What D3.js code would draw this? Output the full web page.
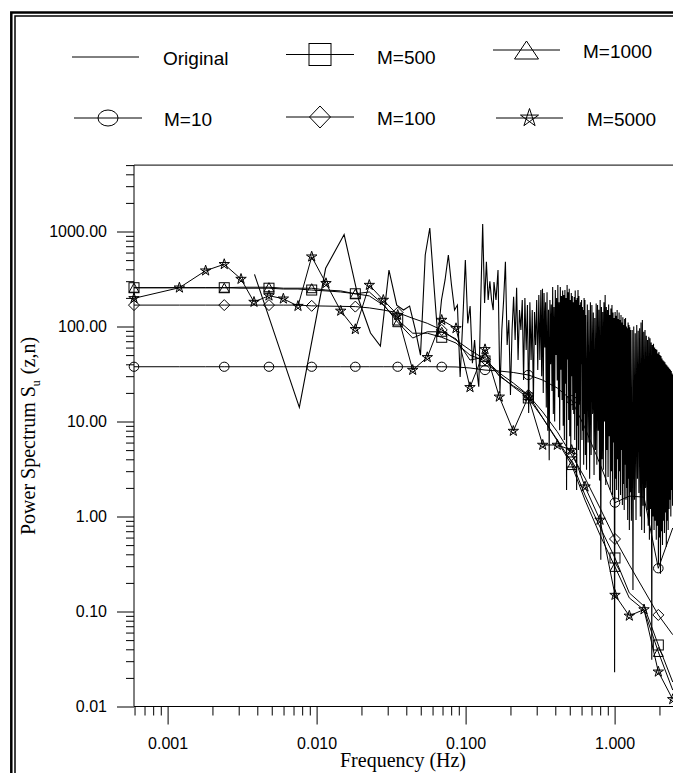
<!DOCTYPE html>
<html>
<head>
<meta charset="utf-8">
<script src="https://cdn.jsdelivr.net/npm/d3@7"></script>
<style>
  body { margin: 0; background: #fff; }
  svg { display: block; }
</style>
</head>
<body>
<div id="chart"></div>
<script>
// 1/10-decade band frequencies (Hz) of the smoothed spectra
const bandFreq = [0.000595, 0.0012, 0.0018, 0.0024, 0.00311, 0.0038, 0.00479, 0.00598, 0.0075, 0.00927,
  0.01156, 0.01452, 0.01819, 0.02258, 0.02804, 0.03502, 0.04416, 0.05534, 0.06915, 0.08622,
  0.107, 0.135, 0.1683, 0.209, 0.2635, 0.3292, 0.4125, 0.515, 0.633, 0.798,
  1.006, 1.255, 1.575, 1.965, 2.455];

const specM10 = [37.7, 37.7, 37.7, 37.7, 37.7, 37.7, 37.7, 37.7, 37.7, 37.7, 37.7, 37.7, 37.7, 37.7, 37.7, 37.7, 37.7, 37.7, 37.7,
  37.5, 36.6, 34.8, 34.0, 32.8, 30.9, 27.3, 22.5, 16.8, 8.54, 3.57, 1.40, 1.64, 1.60, 0.285, 0.757];
const specM100 = [168, 168, 168, 168, 168, 168, 168, 168, 168, 165, 164, 163, 162, 157, 149, 140, 122, 108, 92,
  72, 56.6, 45, 32.4, 25.4, 19, 12.6, 7.8, 4.44, 2.54, 1.23, 0.58, 0.31, 0.168, 0.092, 0.057];
const specM500 = [256, 256, 256, 256, 253, 253, 253, 248, 248, 242, 237, 231, 221, 210, 168, 117, 85, 85, 77,
  67, 50, 43.4, 30.9, 23.2, 17.7, 10.9, 6.4, 3.75, 1.68, 0.775, 0.366, 0.157, 0.114, 0.0444, 0.0181];
const specM1000 = [256, 256, 256, 256, 259, 259, 259, 253, 253, 253, 242, 237, 221, 231, 171, 111, 75.6, 88, 88,
  74, 44.4, 47.6, 30, 23.7, 19.0, 10.9, 6.25, 3.48, 1.49, 0.64, 0.295, 0.139, 0.104, 0.0375, 0.0149];
const specM5000 = [198, 256, 387, 452, 316, 181, 211, 196, 164, 543, 285, 146, 93.5, 273, 190, 132, 34.8, 47.4, 117,
  95.7, 22.9, 57.5, 18.2, 7.94, 18.2, 5.66, 5.66, 5.0, 2.06, 0.92, 0.149, 0.090, 0.105, 0.0232, 0.0119];

// raw periodogram, low frequency harmonics
const origFreqLow = [0.00383, 0.00766, 0.0115, 0.0153, 0.0192, 0.023, 0.0268, 0.0306, 0.0345, 0.0383,
  0.0421, 0.046, 0.0498, 0.0536, 0.0575, 0.0613, 0.0651, 0.0689, 0.0728, 0.0766,
  0.0804, 0.0843, 0.0881, 0.0919, 0.0958, 0.0996, 0.1034, 0.1072, 0.1111, 0.1149,
  0.1187, 0.1226, 0.1264, 0.1302, 0.1341, 0.1379, 0.1417, 0.1455, 0.1494, 0.1532];
const origPowLow = [354, 14.1, 410, 929, 190, 85.4, 62.3, 393, 168, 149,
  164, 92, 50, 566, 1088, 273, 77.5, 190, 309, 566,
  273, 149, 168, 29.4, 117, 501, 108, 164, 41, 72,
  35, 23.2, 190, 1200, 177, 480, 190, 300, 190, 149];

// raw periodogram, 0.15 - 0.32 Hz
const origFreqMid = [0.155, 0.16, 0.165, 0.17, 0.175, 0.18, 0.185, 0.19, 0.195, 0.2, 0.205, 0.21, 0.215, 0.22, 0.225, 0.23, 0.235,
  0.24, 0.245, 0.25, 0.255, 0.26, 0.265, 0.27, 0.275, 0.28, 0.285, 0.29, 0.295, 0.3, 0.305, 0.31, 0.315, 0.32];
const origPowMid = [294, 190, 393, 20, 92, 190, 480, 64, 117, 19, 92, 205, 72, 255, 44.4, 149, 92,
  190, 27.3, 200, 56.6, 168, 12.3, 180, 44.4, 149, 15.6, 142, 64, 190, 34.8, 215, 44.4, 242];

// raw periodogram, dense part 0.32 - 0.64 Hz
const origFreqC = [0.324, 0.328, 0.332, 0.336, 0.34, 0.344, 0.348, 0.352, 0.356, 0.36, 0.364, 0.368, 0.372, 0.376, 0.38, 0.384,
  0.388, 0.392, 0.396, 0.4, 0.404, 0.408, 0.412, 0.416, 0.42, 0.424, 0.428, 0.432, 0.436, 0.44, 0.444, 0.448,
  0.452, 0.456, 0.46, 0.464, 0.468, 0.472, 0.476, 0.48, 0.484, 0.488, 0.492, 0.496, 0.5, 0.504, 0.508, 0.512,
  0.516, 0.52, 0.524, 0.528, 0.532, 0.536, 0.54, 0.544, 0.548, 0.552, 0.556, 0.56, 0.564, 0.568, 0.572, 0.576,
  0.58, 0.584, 0.588, 0.592, 0.596, 0.6, 0.604, 0.608, 0.612, 0.616, 0.62, 0.624, 0.628, 0.632, 0.636, 0.64];
const origPowC = [30, 250, 20, 225, 60, 180, 14, 230, 8, 150, 3.9, 190, 40, 170, 21, 260,
  12, 160, 10, 242, 50, 200, 27, 273, 18, 180, 8.1, 260, 35, 210, 16.8, 240,
  9, 215, 6.4, 242, 25, 200, 1.9, 273, 45, 230, 10.4, 250, 7, 190, 5.0, 225,
  30, 210, 13.2, 180, 12, 205, 6.4, 240, 20, 190, 1.9, 200, 9, 242, 5.0, 210,
  15, 168, 2.73, 180, 40, 190, 6.4, 160, 8, 149, 3.5, 200, 12, 190, 4.44, 132];

// raw periodogram, dense part 0.64 - 1.28 Hz
const origFreqD = [0.648, 0.656, 0.664, 0.672, 0.68, 0.688, 0.696, 0.704, 0.712, 0.72, 0.728, 0.736, 0.744, 0.752, 0.76, 0.768,
  0.776, 0.784, 0.792, 0.8, 0.808, 0.816, 0.824, 0.832, 0.84, 0.848, 0.856, 0.864, 0.872, 0.88, 0.888, 0.896,
  0.904, 0.912, 0.92, 0.928, 0.936, 0.944, 0.952, 0.96, 0.968, 0.976, 0.984, 0.992, 1.0, 1.008, 1.016, 1.024,
  1.032, 1.04, 1.048, 1.056, 1.064, 1.072, 1.08, 1.088, 1.096, 1.104, 1.112, 1.12, 1.128, 1.136, 1.144, 1.152,
  1.16, 1.168, 1.176, 1.184, 1.192, 1.2, 1.208, 1.216, 1.224, 1.232, 1.24, 1.248, 1.256, 1.264, 1.272, 1.28];
const origPowD = [3.1, 170, 6, 149, 2.5, 180, 4.44, 168, 12, 140, 2.73, 123, 5, 175, 3.5, 168,
  8, 150, 2.4, 190, 0.35, 160, 4, 142, 3.1, 180, 10, 215, 2.15, 160, 5, 149,
  2.6, 170, 7, 132, 1.9, 155, 3, 168, 1.68, 140, 6, 123, 0.023, 142, 2.5, 130,
  1.9, 149, 4, 120, 1.5, 140, 3, 117, 1.68, 132, 5, 110, 1.32, 125, 2.2, 104,
  1.17, 120, 3.5, 123, 1.5, 100, 2, 96, 0.92, 110, 2.5, 104, 0.72, 98, 1.8, 92];

// raw periodogram, dense part 1.28 - 3 Hz
const origFreqE = [1.296, 1.312, 1.328, 1.344, 1.36, 1.376, 1.392, 1.408, 1.424, 1.44, 1.456, 1.472, 1.488, 1.504, 1.52, 1.536,
  1.552, 1.568, 1.584, 1.6, 1.616, 1.632, 1.648, 1.664, 1.68, 1.696, 1.712, 1.728, 1.744, 1.76, 1.776, 1.792,
  1.808, 1.824, 1.84, 1.856, 1.872, 1.888, 1.904, 1.92, 1.936, 1.952, 1.968, 1.984, 2.0, 2.016, 2.032, 2.048,
  2.064, 2.08, 2.096, 2.112, 2.128, 2.144, 2.16, 2.176, 2.192, 2.208, 2.224, 2.24, 2.256, 2.272, 2.288, 2.304,
  2.32, 2.336, 2.352, 2.368, 2.384, 2.4, 2.416, 2.432, 2.448, 2.464, 2.48, 2.496, 2.512, 2.528, 2.544, 2.56,
  2.62, 2.7, 2.8, 2.9, 3.0];
const origPowE = [0.9, 92, 0.168, 100, 1.5, 85, 0.92, 104, 2.5, 90, 1.77, 96, 1.0, 110, 0.72, 117,
  1.3, 88, 0.67, 92, 2, 80, 1.17, 72, 0.8, 78, 0.57, 75, 1.2, 68, 0.031, 64,
  1.0, 66, 0.72, 60, 0.9, 58, 0.57, 57, 0.8, 52, 0.31, 54, 0.6, 50, 0.25, 49,
  0.7, 46, 0.5, 44, 0.9, 43, 0.67, 42, 1.1, 40, 0.48, 39, 0.9, 38, 0.72, 37,
  1.2, 36, 1.5, 35, 1.0, 34, 1.9, 32, 1.3, 31, 1.5, 31, 1.1, 30, 1.7, 29,
  1.5, 27, 1.7, 26, 1.9];

const yMajorTicks = [0.01, 0.1, 1, 10, 100, 1000];
const yTickLabels = ['0.01', '0.10', '1.00', '10.00', '100.00', '1000.00'];
const xMajorTicks = [0.001, 0.01, 0.1, 1];
const xTickLabels = ['0.001', '0.010', '0.100', '1.000'];

const seriesNames = ['Original', 'M=10', 'M=100', 'M=500', 'M=1000', 'M=5000'];

const w = 673;
const h = 773;
const sans = "'Liberation Sans', Arial, Helvetica, sans-serif";
const serif = "'Liberation Serif', 'Times New Roman', Times, serif";

const svg = d3.select('#chart').append('svg').attr('width', w).attr('height', h);

// double frame
svg.append('rect').attr('x', 11.3).attr('y', 12.5).attr('width', 720).attr('height', 800)
  .attr('fill', 'none').attr('stroke', '#000').attr('stroke-width', 2.5);
svg.append('rect').attr('x', 15).attr('y', 16).attr('width', 720).attr('height', 800)
  .attr('fill', 'none').attr('stroke', '#000').attr('stroke-width', 1.5);

const xScale = d3.scaleLog().domain([0.000595, 2.5]).range([134, 673.9]);
const yScale = d3.scaleLog().domain([0.01, 5000]).range([706.5, 165.1]);

function drawMarker(g, type, cx, cy, big) {
  if (type === 'square') {
    const s = big ? 22 : 10;
    g.append('rect').attr('x', cx - s / 2).attr('y', cy - s / 2).attr('width', s).attr('height', s);
  } else if (type === 'circle') {
    g.append('ellipse').attr('cx', cx).attr('cy', cy).attr('rx', big ? 10 : 4.8).attr('ry', big ? 8 : 4.6);
  } else if (type === 'triangle') {
    const tw = big ? 24 : 10, th = big ? 18 : 9;
    g.append('path').attr('d', `M${cx},${cy - th / 2}L${cx + tw / 2},${cy + th / 2}L${cx - tw / 2},${cy + th / 2}Z`);
  } else if (type === 'diamond') {
    const dw = big ? 21 : 11, dh = big ? 22 : 11;
    g.append('path').attr('d', `M${cx},${cy - dh / 2}L${cx + dw / 2},${cy}L${cx},${cy + dh / 2}L${cx - dw / 2},${cy}Z`);
  } else if (type === 'star') {
    const r = big ? 9.5 : 5.5;
    let d = '';
    for (let i = 0; i < 5; i++) {
      const a = (-90 + i * 144) * Math.PI / 180;
      d += (i ? 'L' : 'M') + (cx + r * Math.cos(a)) + ',' + (cy + r * Math.sin(a));
    }
    g.append('path').attr('d', d + 'Z');
  }
}

const line = d3.line().x(d => xScale(d[0])).y(d => yScale(d[1]));

const plot = svg.append('g').attr('fill', 'none').attr('stroke', '#000').attr('stroke-width', 1);

// original periodogram
const origFreq = origFreqLow.concat(origFreqMid, origFreqC, origFreqD, origFreqE);
const origPow = origPowLow.concat(origPowMid, origPowC, origPowD, origPowE);
const origData = origFreq.map((f, i) => [f, origPow[i]]);
plot.append('path').attr('d', line(origData)).attr('stroke-width', 1.1);

const smoothed = [
  { vals: specM10, sym: 'circle', every: 3 },
  { vals: specM100, sym: 'diamond', every: 3 },
  { vals: specM500, sym: 'square', every: 3 },
  { vals: specM1000, sym: 'triangle', every: 3 },
  { vals: specM5000, sym: 'star', every: 1 }
];

smoothed.forEach(s => {
  const pts = bandFreq.map((f, i) => [f, s.vals[i]]);
  plot.append('path').attr('d', line(pts));
  const mg = plot.append('g');
  pts.forEach((p, i) => {
    if (i % s.every === 0) drawMarker(mg, s.sym, xScale(p[0]), yScale(p[1]), false);
  });
});

// axes frame lines
svg.append('line').attr('x1', 134).attr('x2', 134).attr('y1', 165.1).attr('y2', 706.5).attr('stroke', '#000');
svg.append('line').attr('x1', 134).attr('x2', 680).attr('y1', 706.5).attr('y2', 706.5).attr('stroke', '#000');
svg.append('line').attr('x1', 134).attr('x2', 680).attr('y1', 165.1).attr('y2', 165.1).attr('stroke', '#000');

// y axis
const yMinor = yScale.ticks(60).filter(v => !yMajorTicks.some(m => Math.abs(m - v) / m < 1e-6));
svg.append('g').attr('transform', 'translate(134,0)')
  .call(d3.axisLeft(yScale).tickValues(yMinor).tickSize(8).tickFormat(''))
  .call(g => g.select('.domain').remove());
svg.append('g').attr('transform', 'translate(134,0)')
  .call(d3.axisLeft(yScale).tickValues(yMajorTicks).tickSize(17).tickPadding(10)
    .tickFormat((d, i) => yTickLabels[i]))
  .call(g => g.select('.domain').remove())
  .call(g => g.selectAll('text').attr('font-family', sans).attr('font-size', 16).attr('fill', '#000'));

// x axis
const xMinor = xScale.ticks(60).filter(v => !xMajorTicks.some(m => Math.abs(m - v) / m < 1e-6));
svg.append('g').attr('transform', 'translate(0,706.5)')
  .call(d3.axisBottom(xScale).tickValues(xMinor).tickSize(9).tickFormat(''))
  .call(g => g.select('.domain').remove());
svg.append('g').attr('transform', 'translate(0,706.5)')
  .call(d3.axisBottom(xScale).tickValues(xMajorTicks).tickSize(18).tickPadding(13)
    .tickFormat((d, i) => xTickLabels[i]))
  .call(g => g.select('.domain').remove())
  .call(g => g.selectAll('text').attr('font-family', sans).attr('font-size', 16).attr('fill', '#000'));

svg.selectAll('.tick line').attr('stroke', '#000');

// axis titles
svg.append('text').attr('x', 403).attr('y', 767).attr('text-anchor', 'middle')
  .attr('font-family', serif).attr('font-size', 20).text('Frequency (Hz)');

const yt = svg.append('text').attr('transform', 'translate(35,436) rotate(-90)')
  .attr('text-anchor', 'middle').attr('font-family', serif).attr('font-size', 20);
yt.append('tspan').text('Power Spectrum  S');
yt.append('tspan').attr('font-size', 12).attr('dy', 5).text('u');
yt.append('tspan').attr('dy', -5).attr('dx', 6).text('(z,n)');

// legend
const legendPos = [
  { name: seriesNames[0], sym: null, x1: 72, x2: 139, ly: 57, tx: 163, ty: 58 },
  { name: seriesNames[3], sym: 'square', x1: 286, x2: 354, ly: 54.5, tx: 377, ty: 57 },
  { name: seriesNames[4], sym: 'triangle', x1: 493, x2: 560, ly: 50, tx: 583, ty: 51 },
  { name: seriesNames[1], sym: 'circle', x1: 74, x2: 142, ly: 118, tx: 164, ty: 119 },
  { name: seriesNames[2], sym: 'diamond', x1: 286, x2: 354, ly: 117, tx: 377, ty: 118 },
  { name: seriesNames[5], sym: 'star', x1: 496, x2: 563, ly: 118, tx: 587, ty: 119 }
];
const lg = svg.append('g');
legendPos.forEach(it => {
  lg.append('line').attr('x1', it.x1).attr('x2', it.x2).attr('y1', it.ly).attr('y2', it.ly)
    .attr('stroke', '#000').attr('stroke-width', 1);
  if (it.sym) {
    const mg = lg.append('g').attr('fill', 'none').attr('stroke', '#000').attr('stroke-width', 1);
    drawMarker(mg, it.sym, (it.x1 + it.x2) / 2, it.ly, true);
  }
  lg.append('text').attr('x', it.tx).attr('y', it.ty).attr('dominant-baseline', 'central')
    .attr('font-family', sans).attr('font-size', 19).attr('fill', '#000').text(it.name);
});
</script>
</body>
</html>
